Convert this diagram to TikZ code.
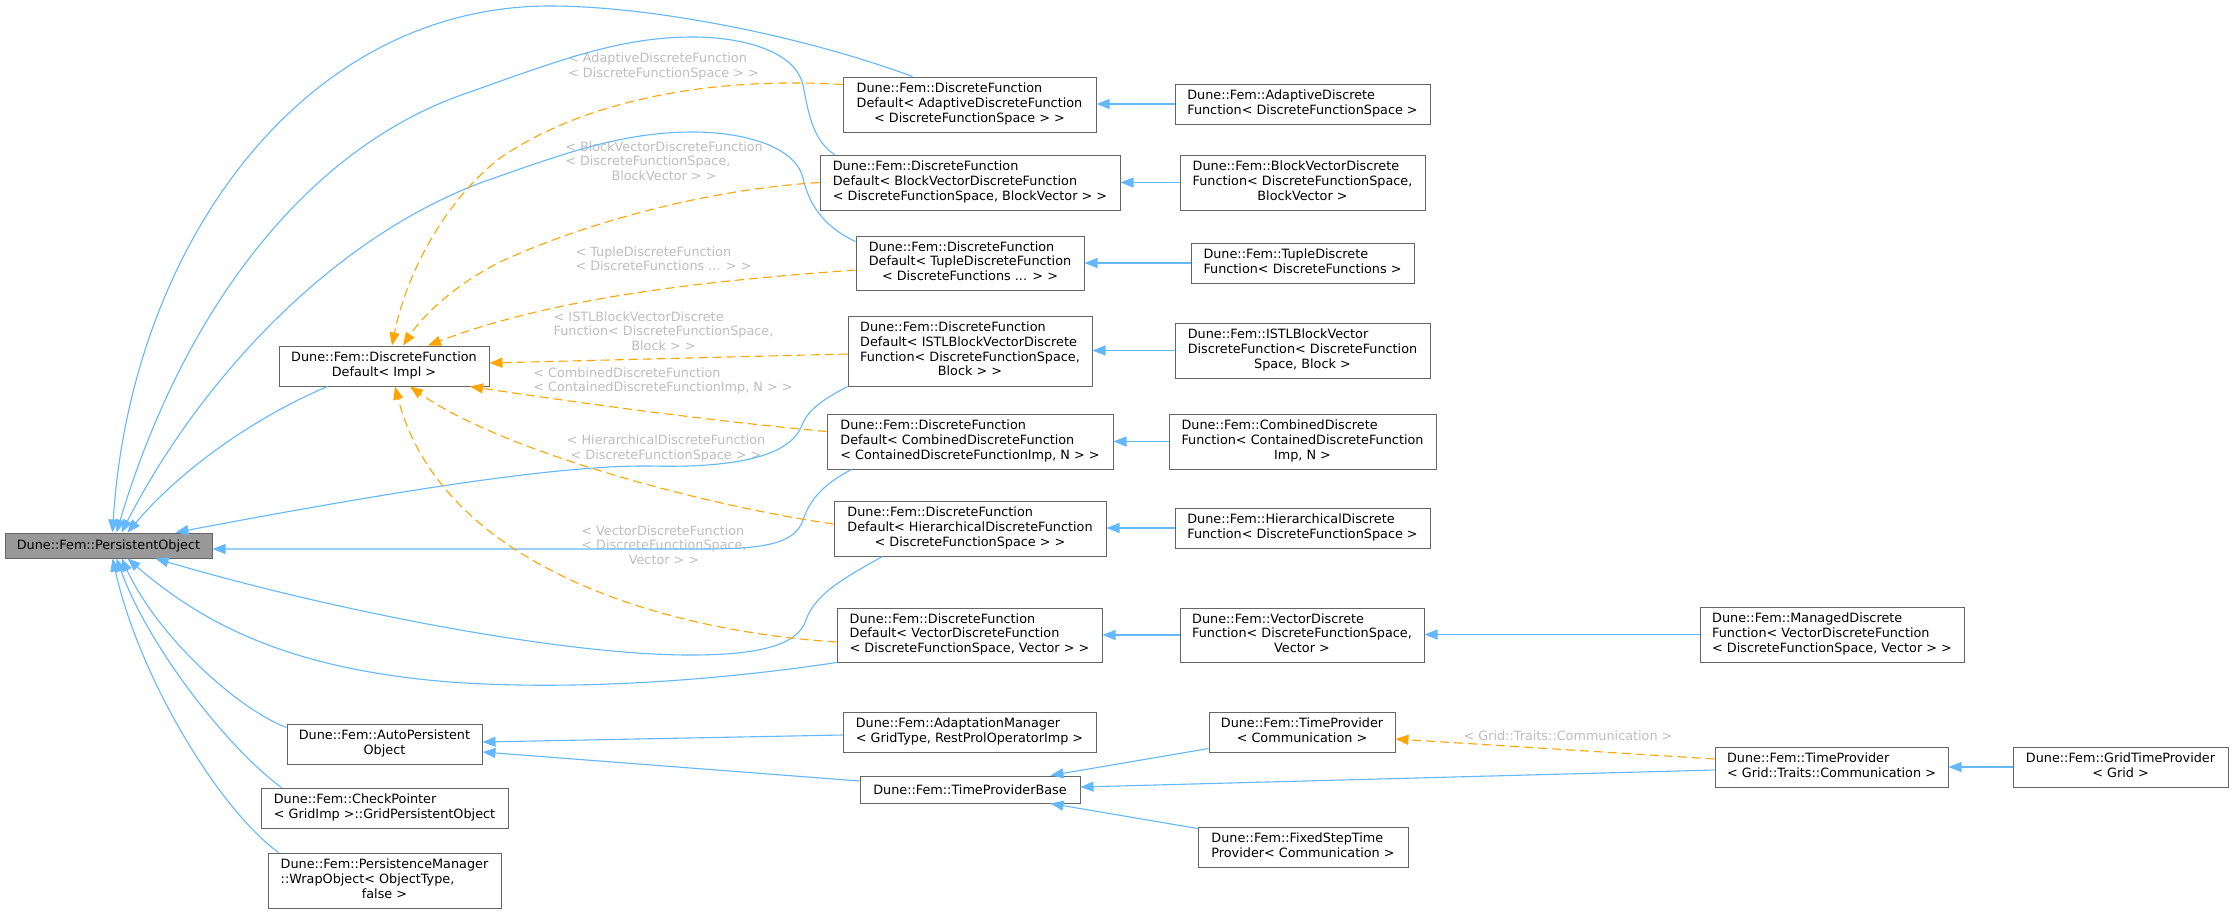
\documentclass[tikz,border=0pt]{standalone}
\usepackage{fontspec}
\setmainfont{DejaVu Sans}
\usetikzlibrary{arrows.meta,calc}
\definecolor{cInh}{HTML}{63B8FF}
\definecolor{cTmpl}{HTML}{FFA500}
\definecolor{cBord}{HTML}{666666}
\definecolor{cPO}{HTML}{999999}
\definecolor{cLbl}{HTML}{BEBEBE}
\newcommand{\doxl}[2]{\begin{tabular}{@{}l@{}}#1\\\multicolumn{1}{@{}c@{}}{#2}\end{tabular}}
\tikzset{
  box/.style={draw=cBord, line width=1pt, fill=white, inner sep=0pt, text=black},
  inhe/.style={draw=cInh, line width=1.1pt, -{Triangle[length=13pt,width=10pt]}},
  tmpl/.style={draw=cTmpl, line width=1.1pt, dash pattern=on 9pt off 5pt, -{Triangle[length=13pt,width=10pt]}},
  lbl/.style={text=cLbl, inner sep=0pt}
}
\begin{document}
\begin{tikzpicture}[x=1pt,y=-1pt,font=\fontsize{12.8}{14.7}\selectfont]
\useasboundingbox (0,0) rectangle (2233,913);
\fill[white] (0,0) rectangle (2233,913);

% nodes
\node[box, fill=cPO, minimum width=207, minimum height=25] (PO) at (108.5,545.5) {Dune::Fem::PersistentObject};
\node[box, minimum width=210, minimum height=40] (Impl) at (384,366) {\doxl{Dune::Fem::DiscreteFunction}{Default< Impl >}};

\node[box, minimum width=253, minimum height=55] (DFA) at (969.5,104.5) {\doxl{Dune::Fem::DiscreteFunction\\Default< AdaptiveDiscreteFunction}{< DiscreteFunctionSpace > >}};
\node[box, minimum width=255, minimum height=40] (ADF) at (1302.5,104) {\doxl{Dune::Fem::AdaptiveDiscrete}{Function< DiscreteFunctionSpace >}};

\node[box, minimum width=300, minimum height=55] (DFB) at (970,182.5) {\doxl{Dune::Fem::DiscreteFunction\\Default< BlockVectorDiscreteFunction}{< DiscreteFunctionSpace, BlockVector > >}};
\node[box, minimum width=245, minimum height=55] (BVDF) at (1302.5,182.5) {\doxl{Dune::Fem::BlockVectorDiscrete\\Function< DiscreteFunctionSpace,}{BlockVector >}};

\node[box, minimum width=228, minimum height=54] (DFT) at (970,263) {\doxl{Dune::Fem::DiscreteFunction\\Default< TupleDiscreteFunction}{< DiscreteFunctions ... > >}};
\node[box, minimum width=223, minimum height=40] (TDF) at (1302.5,263) {\doxl{Dune::Fem::TupleDiscrete}{Function< DiscreteFunctions >}};

\node[box, minimum width=244, minimum height=70] (DFI) at (970,351) {\doxl{Dune::Fem::DiscreteFunction\\Default< ISTLBlockVectorDiscrete\\Function< DiscreteFunctionSpace,}{Block > >}};
\node[box, minimum width=255, minimum height=55] (ISTL) at (1302.5,350.5) {\doxl{Dune::Fem::ISTLBlockVector\\DiscreteFunction< DiscreteFunction}{Space, Block >}};

\node[box, minimum width=286, minimum height=55] (DFC) at (970,441.5) {\doxl{Dune::Fem::DiscreteFunction\\Default< CombinedDiscreteFunction}{< ContainedDiscreteFunctionImp, N > >}};
\node[box, minimum width=267, minimum height=55] (CDF) at (1302.5,441.5) {\doxl{Dune::Fem::CombinedDiscrete\\Function< ContainedDiscreteFunction}{Imp, N >}};

\node[box, minimum width=272, minimum height=55] (DFH) at (970,528.5) {\doxl{Dune::Fem::DiscreteFunction\\Default< HierarchicalDiscreteFunction}{< DiscreteFunctionSpace > >}};
\node[box, minimum width=255, minimum height=40] (HDF) at (1302.5,528) {\doxl{Dune::Fem::HierarchicalDiscrete}{Function< DiscreteFunctionSpace >}};

\node[box, minimum width=265, minimum height=54] (DFV) at (969.5,635) {\doxl{Dune::Fem::DiscreteFunction\\Default< VectorDiscreteFunction}{< DiscreteFunctionSpace, Vector > >}};
\node[box, minimum width=244, minimum height=54] (VDF) at (1302,635) {\doxl{Dune::Fem::VectorDiscrete\\Function< DiscreteFunctionSpace,}{Vector >}};
\node[box, minimum width=264, minimum height=55] (MDF) at (1832,634.5) {\doxl{Dune::Fem::ManagedDiscrete\\Function< VectorDiscreteFunction}{< DiscreteFunctionSpace, Vector > >}};

\node[box, minimum width=195, minimum height=40] (APO) at (384.5,744) {\doxl{Dune::Fem::AutoPersistent}{Object}};
\node[box, minimum width=247, minimum height=40] (CP) at (384.5,808) {\doxl{Dune::Fem::CheckPointer}{< GridImp >::GridPersistentObject}};
\node[box, minimum width=233, minimum height=55] (PM) at (384.5,880.5) {\doxl{Dune::Fem::PersistenceManager\\::WrapObject< ObjectType,}{false >}};

\node[box, minimum width=253, minimum height=40] (AM) at (969.5,732) {\doxl{Dune::Fem::AdaptationManager}{< GridType, RestProlOperatorImp >}};
\node[box, minimum width=220, minimum height=27] (TPB) at (970,789.5) {Dune::Fem::TimeProviderBase};
\node[box, minimum width=186, minimum height=40] (TPC) at (1302,732) {\doxl{Dune::Fem::TimeProvider}{< Communication >}};
\node[box, minimum width=210, minimum height=40] (FST) at (1303,847) {\doxl{Dune::Fem::FixedStepTime}{Provider< Communication >}};
\node[box, minimum width=233, minimum height=40] (TPG) at (1831.5,767) {\doxl{Dune::Fem::TimeProvider}{< Grid::Traits::Communication >}};
\node[box, minimum width=215, minimum height=40] (GTP) at (2120.5,767) {\doxl{Dune::Fem::GridTimeProvider}{< Grid >}};

% edge labels
\node[lbl] (lA) at (663.5,67) {\doxl{< AdaptiveDiscreteFunction}{< DiscreteFunctionSpace > >}};
\node[lbl] (lB) at (664,163) {\doxl{< BlockVectorDiscreteFunction\\< DiscreteFunctionSpace,}{BlockVector > >}};
\node[lbl] (lT) at (663.5,260.5) {\doxl{< TupleDiscreteFunction}{< DiscreteFunctions ... > >}};
\node[lbl] (lI) at (663.5,333) {\doxl{< ISTLBlockVectorDiscrete\\Function< DiscreteFunctionSpace,}{Block > >}};
\node[lbl] (lC) at (663,381.5) {\doxl{< CombinedDiscreteFunction}{< ContainedDiscreteFunctionImp, N > >}};
\node[lbl] (lH) at (666,449) {\doxl{< HierarchicalDiscreteFunction}{< DiscreteFunctionSpace > >}};
\node[lbl] (lV) at (664,547) {\doxl{< VectorDiscreteFunction\\< DiscreteFunctionSpace,}{Vector > >}};
\node[lbl] (lG) at (1568,736) {< Grid::Traits::Communication >};

% inheritance edges to PersistentObject
\draw[inhe] ($(DFA.north west)+(70,0)$) .. controls (800,35) and (650,6) .. (550,6) .. controls (300,6) and (130,250) .. ($(PO.north)+(4,0)$);
\draw[inhe] ($(DFB.north west)+(15,0)$) .. controls (812,140) and (808,110) .. (803,85) .. controls (795,50) and (740,37) .. (693,37) .. controls (620,37) and (560,60) .. (467,93) .. controls (300,150) and (180,320) .. ($(PO.north)+(8,0)$);
\draw[inhe] ($(DFT.north west)+(0,6)$) .. controls (820,225) and (808,200) .. (803,178) .. controls (795,145) and (740,132) .. (693,132) .. controls (620,132) and (560,155) .. (480,183) .. controls (330,240) and (200,380) .. ($(PO.north)+(13,0)$);
\draw[inhe] ($(Impl.south west)+(49,0)$) .. controls (260,415) and (185,465) .. ($(PO.north)+(19,0)$);
\draw[inhe] (DFI.south west) .. controls (822,400) and (808,410) .. (802,425) .. controls (790,458) and (730,468) .. (650,466) .. controls (560,465) and (400,490) .. ($(PO.north)+(67,0)$);
\draw[inhe] ($(DFC.south west)+(25,0)$) .. controls (822,485) and (810,500) .. (803,520) .. controls (795,545) and (760,549) .. (700,549) -- ($(PO.east)+(0,3.5)$);
\draw[inhe] ($(DFH.south west)+(49,0)$) .. controls (840,580) and (815,595) .. (806,620) .. controls (798,645) and (760,655) .. (690,655) .. controls (560,655) and (330,610) .. ($(PO.south)+(47,0)$);
\draw[inhe] (DFV.south west) .. controls (700,683) and (560,690) .. (450,682) .. controls (300,670) and (210,630) .. ($(PO.south)+(19,0)$);
\draw[inhe] ($(APO.north west)+(0,4)$) .. controls (240,710) and (160,640) .. ($(PO.south)+(13,0)$);
\draw[inhe] ($(CP.north west)+(21,0)$) .. controls (230,750) and (150,650) .. ($(PO.south)+(8,0)$);
\draw[inhe] ($(PM.north west)+(11,0)$) .. controls (220,810) and (140,680) .. ($(PO.south)+(4,0)$);

% horizontal inheritance edges
\draw[inhe] (ADF.west) -- (ADF.west -| DFA.east);
\draw[inhe] (BVDF.west) -- (BVDF.west -| DFB.east);
\draw[inhe] (TDF.west) -- (TDF.west -| DFT.east);
\draw[inhe] (ISTL.west) -- (ISTL.west -| DFI.east);
\draw[inhe] (CDF.west) -- (CDF.west -| DFC.east);
\draw[inhe] (HDF.west) -- (HDF.west -| DFH.east);
\draw[inhe] (VDF.west) -- (VDF.west -| DFV.east);
\draw[inhe] (MDF.west) -- (MDF.west -| VDF.east);
\draw[inhe] (GTP.west) -- (GTP.west -| TPG.east);

% lower inheritance edges
\draw[inhe] ($(AM.west)+(0,3)$) -- ($(APO.east)+(0,-2)$);
\draw[inhe] ($(TPB.west)+(0,-8.5)$) -- ($(APO.east)+(0,8)$);
\draw[inhe] ($(TPC.south west)+(0,-4)$) -- ($(TPB.north east)+(-30,0)$);
\draw[inhe] ($(TPG.west)+(0,3)$) -- ($(TPB.east)+(0,-2.5)$);
\draw[inhe] ($(FST.north west)+(0,2)$) -- ($(TPB.south east)+(-30,0)$);
\draw[tmpl] ($(TPG.west)+(0,-8)$) -- ($(TPC.east)+(0,7)$);

% template instantiation edges to DiscreteFunctionDefault<Impl>
\draw[tmpl] ($(DFA.north west)+(0,8)$) .. controls (740,78) and (600,90) .. (500,158) .. controls (440,205) and (405,280) .. ($(Impl.north)+(8,0)$);
\draw[tmpl] (DFB.west) .. controls (700,190) and (580,225) .. (500,262) .. controls (450,287) and (420,320) .. ($(Impl.north)+(19,0)$);
\draw[tmpl] ($(DFT.west)+(0,7)$) .. controls (720,280) and (560,295) .. ($(Impl.north)+(44,0)$);
\draw[tmpl] ($(DFI.west)+(0,3)$) -- ($(Impl.east)+(0,-3)$);
\draw[tmpl] ($(DFC.north west)+(0,18)$) .. controls (700,420) and (560,400) .. ($(Impl.south)+(86,0)$);
\draw[tmpl] ($(DFH.west)+(0,-4.5)$) .. controls (700,505) and (500,450) .. ($(Impl.south)+(26,0)$);
\draw[tmpl] ($(DFV.west)+(0,7)$) .. controls (650,630) and (440,560) .. ($(Impl.south)+(11,0)$);
\end{tikzpicture}
\end{document}
